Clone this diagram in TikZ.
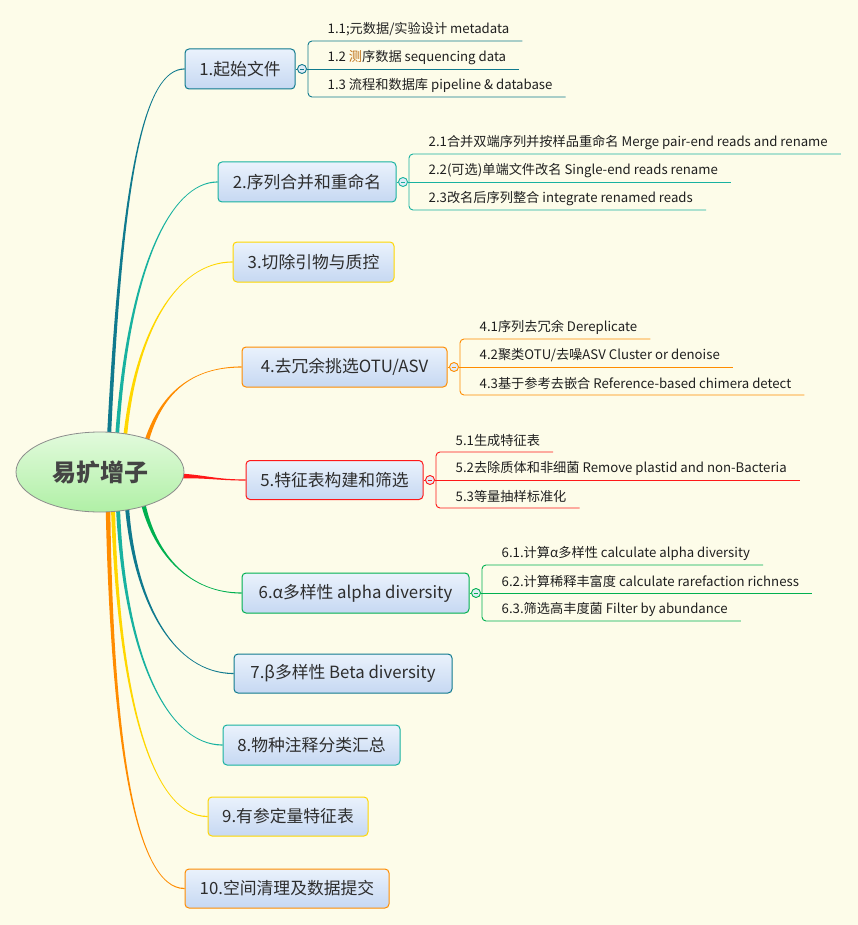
\documentclass[tikz,border=0pt]{standalone}
\usepackage{fontspec}
\setmainfont{Noto Sans CJK SC}
\usetikzlibrary{calc,shapes.geometric,backgrounds}
\definecolor{bgc}{RGB}{253,252,233}
\definecolor{cA}{RGB}{16,122,142}
\definecolor{cB}{RGB}{24,178,160}
\definecolor{cC}{RGB}{255,215,0}
\definecolor{cD}{RGB}{255,140,0}
\definecolor{cE}{RGB}{255,24,24}
\definecolor{cF}{RGB}{0,176,80}
\definecolor{boxtop}{RGB}{234,242,252}
\definecolor{boxbot}{RGB}{198,216,242}
\definecolor{circfill}{RGB}{225,236,246}
\definecolor{txt}{RGB}{45,45,45}
\definecolor{cebrown}{RGB}{190,110,20}
\newcommand\topicfont{\fontsize{16.8}{19}\selectfont}
\newcommand\subfont{\fontsize{13.2}{15}\selectfont}
\newcommand\rootfont{\fontsize{24}{28}\selectfont}
% tapered branch: color, start, c1, c2, end, start offset, end offset
\newcommand\tbranch[7]{%
  \fill[#1] ($(#2)+#6$) .. controls ($(#3)+0.5*#6$) and ($(#4)+0.15*#6$) .. ($(#5)+#7$)
     -- ($(#5)-#7$) .. controls ($(#4)-0.15*#6$) and ($(#3)-0.5*#6$) .. ($(#2)-#6$) -- cycle;}
% subgroup: prefix, color, parent, text1, text2, text3
\newcommand\subgroup[6]{%
  \node[minuscirc=#2] (#1c) at ($(#3.east)+(6.5,0)$) {};
  \draw[#2, line width=0.9pt] ($(#1c.center)+(-2.3,0)$) -- ($(#1c.center)+(2.3,0)$);
  \draw[#2, line width=0.9pt] (#3.east) -- (#1c.west);
  \coordinate (#1T) at ($(#3.east)+(12.5,-28)$);
  \coordinate (#1M) at ($(#3.east)+(12.5,0)$);
  \coordinate (#1B) at ($(#3.east)+(12.5,28)$);
  \node[subtext] (#1x1) at ($(#1T)+(19.5,-11.5)$) {#4};
  \node[subtext] (#1x2) at ($(#1M)+(19.5,-11.5)$) {#5};
  \node[subtext] (#1x3) at ($(#1B)+(19.5,-11.5)$) {#6};
  \draw[#2, line width=0.9pt, rounded corners=4pt] ($(#1x1.east |- #1T)+(13,0)$) -- (#1T) -- (#1B) -- ($(#1x3.east |- #1B)+(13,0)$);
  \draw[#2, line width=0.9pt] (#1c.east) -- ($(#1x2.east |- #1M)+(13,0)$);
}
\tikzset{
  topic/.style={draw=#1, line width=1pt, rounded corners=4pt, top color=boxtop, bottom color=boxbot,
     minimum height=40pt, inner sep=0pt, font=\topicfont, text=txt},
  subtext/.style={anchor=west, inner sep=0pt, font=\subfont, text=black!88},
  minuscirc/.style={circle, draw=#1, fill=circfill, minimum size=9pt, inner sep=0pt, line width=0.9pt},
  rootnode/.style={ellipse, draw=black!45, line width=0.8pt, top color={rgb,255:red,226;green,250;blue,220},
     bottom color={rgb,255:red,176;green,240;blue,166}, minimum width=168pt, minimum height=80pt,
     font=\rootfont\bfseries, text={rgb,255:red,68;green,68;blue,68}}
}
\begin{document}
\begin{tikzpicture}[x=1pt,y=-1pt]
\useasboundingbox (0,0) rectangle (858,925);
% root and topics
\node[rootnode] (root) at (100,472) {易扩增子};
\node[topic=cA, minimum width=110pt] (n1) at (240,69) {1.起始文件};
\node[topic=cB, minimum width=178pt] (n2) at (307,182) {2.序列合并和重命名};
\node[topic=cC, minimum width=161pt] (n3) at (313.5,262) {3.切除引物与质控};
\node[topic=cD, minimum width=205pt] (n4) at (344.5,367) {4.去冗余挑选OTU/ASV};
\node[topic=cE, minimum width=177pt, minimum height=39pt] (n5) at (334.5,480) {5.特征表构建和筛选};
\node[topic=cF, minimum width=227pt] (n6) at (355.5,593) {6.α多样性 alpha diversity};
\node[topic=cA, minimum width=218pt, minimum height=39pt] (n7) at (343,673.5) {7.β多样性 Beta diversity};
\node[topic=cB, minimum width=177pt] (n8) at (311.5,745) {8.物种注释分类汇总};
\node[topic=cC, minimum width=160pt, minimum height=39pt] (n9) at (288,816.5) {9.有参定量特征表};
\node[topic=cD, minimum width=204pt, minimum height=39pt] (n10) at (287,888.5) {10.空间清理及数据提交};
% branches
\begin{scope}[on background layer]
\fill[bgc] (0,0) rectangle (858,925);
\tbranch{cA}{109,437}{122,170}{145,69}{n1.west}{(2,0)}{(0,0.6)}
\tbranch{cB}{117,437}{128,270}{170,182}{n2.west}{(1.9,0)}{(0,0.6)}
\tbranch{cC}{125,438}{135,335}{175,262}{n3.west}{(1.9,0)}{(0,0.6)}
\tbranch{cD}{146,443}{160,395}{190,367}{n4.west}{(2.3,0)}{(0,0.6)}
\tbranch{cE}{176,476}{205,476}{215,480}{n5.west}{(0,2.7)}{(0,0.6)}
\tbranch{cF}{143,503}{155,555}{190,593}{n6.west}{(2.3,0)}{(0,-0.6)}
\tbranch{cA}{127,507}{135,605}{175,673.5}{n7.west}{(2,0)}{(0,-0.6)}
\tbranch{cB}{118,508}{124,650}{165,745}{n8.west}{(2,0)}{(0,-0.6)}
\tbranch{cC}{113,508}{118,690}{150,816.5}{n9.west}{(2,0)}{(0,-0.6)}
\tbranch{cD}{108,508}{112,740}{135,888.5}{n10.west}{(2.3,0)}{(0,-0.6)}
\end{scope}
% subtopics
\subgroup{a}{cA}{n1}{1.1;元数据/实验设计 metadata}{1.2 {\color{cebrown}测}序数据 sequencing data}{1.3 流程和数据库 pipeline \& database}
\subgroup{b}{cB}{n2}{2.1合并双端序列并按样品重命名 Merge pair-end reads and rename}{2.2(可选)单端文件改名 Single-end reads rename}{2.3改名后序列整合 integrate renamed reads}
\subgroup{d}{cD}{n4}{4.1序列去冗余 Dereplicate}{4.2聚类OTU/去噪ASV Cluster or denoise}{4.3基于参考去嵌合 Reference-based chimera detect}
\subgroup{e}{cE}{n5}{5.1生成特征表}{5.2去除质体和非细菌 Remove plastid and non-Bacteria}{5.3等量抽样标准化}
\subgroup{f}{cF}{n6}{6.1.计算α多样性 calculate alpha diversity}{6.2.计算稀释丰富度 calculate rarefaction richness}{6.3.筛选高丰度菌 Filter by abundance}
\end{tikzpicture}
\end{document}
